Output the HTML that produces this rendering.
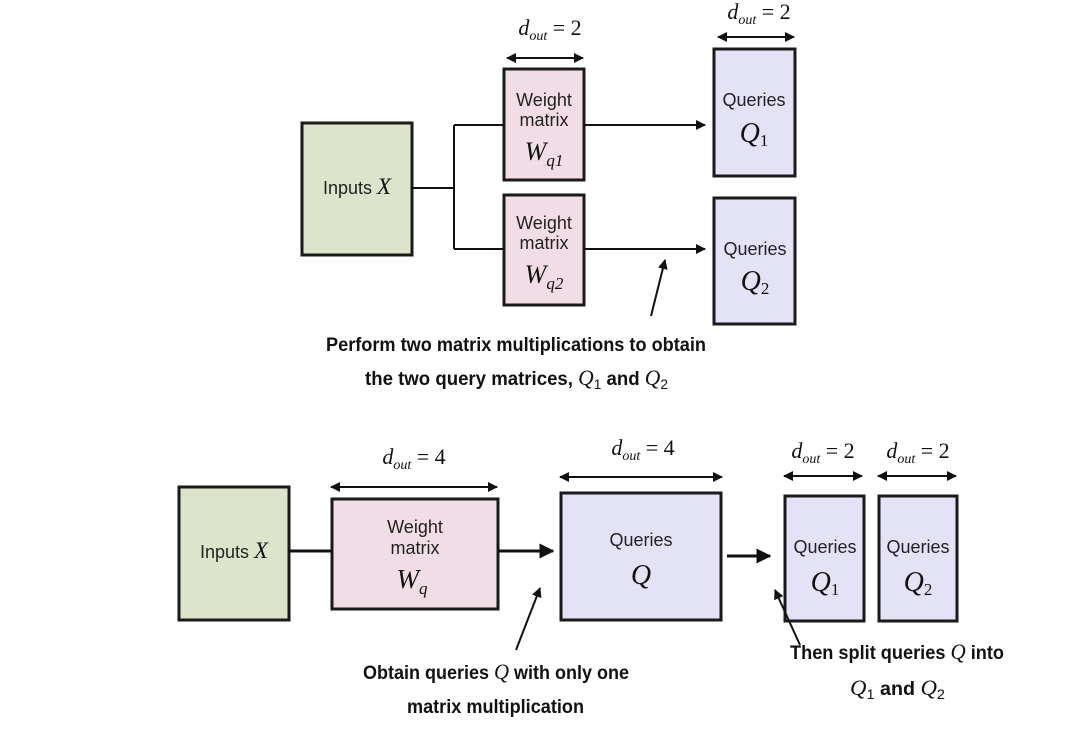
<!DOCTYPE html>
<html><head><meta charset="utf-8"><style>
html,body{margin:0;padding:0;background:#fff;}
svg{display:block}
.s{font-family:"Liberation Sans",sans-serif;font-size:18px;fill:#222}
.m{font-family:"Liberation Serif",serif;font-style:italic;fill:#111}
.b{font-family:"Liberation Sans Narrow","Liberation Sans",sans-serif;font-weight:bold;font-size:19px;fill:#111}
</style></head><body>
<svg width="1080" height="736" viewBox="0 0 1080 736" xmlns="http://www.w3.org/2000/svg">
<defs>
<marker id="a" viewBox="0 0 10 10" refX="9" refY="5" markerWidth="5" markerHeight="5" orient="auto-start-reverse"><path d="M0,0 L10,5 L0,10 z" fill="#111"/></marker>
</defs>
<g stroke="#1a1a1a" stroke-width="3">
<rect x="302" y="123" width="110" height="132" fill="#dce5cc"/>
<rect x="504" y="69" width="80" height="111" fill="#f2dde7"/>
<rect x="504" y="195" width="80" height="110" fill="#f2dde7"/>
<rect x="714" y="49" width="81" height="127" fill="#e4e2f7"/>
<rect x="714" y="198" width="81" height="126" fill="#e4e2f7"/>
<rect x="179" y="487" width="110" height="133" fill="#dce5cc"/>
<rect x="332" y="499" width="166" height="110" fill="#f2dde7"/>
<rect x="561" y="493" width="160" height="127" fill="#e4e2f7"/>
<rect x="785" y="496" width="79" height="125" fill="#e4e2f7"/>
<rect x="879" y="496" width="78" height="125" fill="#e4e2f7"/>
</g>
<g stroke="#111" stroke-width="2" fill="none">
<path d="M412,188 H454 M454,125 V249 M454,125 H504 M454,249 H504"/>
<path d="M584,125 H705" marker-end="url(#a)"/>
<path d="M584,249 H705" marker-end="url(#a)"/>
<path d="M507,58 H583" marker-start="url(#a)" marker-end="url(#a)"/>
<path d="M718,37 H794" marker-start="url(#a)" marker-end="url(#a)"/>
<path d="M651,316 L665,260" marker-end="url(#a)"/>
<path d="M331,487 H497" marker-start="url(#a)" marker-end="url(#a)"/>
<path d="M560,477 H722" marker-start="url(#a)" marker-end="url(#a)"/>
<path d="M784,476 H862" marker-start="url(#a)" marker-end="url(#a)"/>
<path d="M878,476 H956" marker-start="url(#a)" marker-end="url(#a)"/>
<path d="M516,650 L540,588" marker-end="url(#a)"/>
<path d="M800,645 L775,590" marker-end="url(#a)"/>
</g>
<g stroke="#111" stroke-width="3" fill="none">
<path d="M289,551 H332"/>
<path d="M498,551 H553" marker-end="url(#a)"/>
<path d="M727,556 H770" marker-end="url(#a)"/>
</g>
<text x="357" y="194" class="s" text-anchor="middle">Inputs <tspan class="m" font-size="23">X</tspan></text>
<text x="544" y="106" class="s" text-anchor="middle">Weight</text>
<text x="544" y="126" class="s" text-anchor="middle">matrix</text>
<text x="544" y="160" class="m" font-size="26" text-anchor="middle">W<tspan font-size="17" dy="6">q1</tspan></text>
<text x="544" y="229" class="s" text-anchor="middle">Weight</text>
<text x="544" y="249" class="s" text-anchor="middle">matrix</text>
<text x="544" y="283" class="m" font-size="26" text-anchor="middle">W<tspan font-size="17" dy="6">q2</tspan></text>
<text x="754" y="106" class="s" text-anchor="middle">Queries</text>
<text x="754" y="142" class="m" font-size="28" text-anchor="middle">Q<tspan font-size="17" font-style="normal" dy="4">1</tspan></text>
<text x="755" y="255" class="s" text-anchor="middle">Queries</text>
<text x="755" y="290" class="m" font-size="28" text-anchor="middle">Q<tspan font-size="17" font-style="normal" dy="4">2</tspan></text>
<text x="550" y="35" class="m" font-size="22" text-anchor="middle">d<tspan font-size="14" dy="5">out</tspan><tspan dy="-5" font-style="normal"> = 2</tspan></text>
<text x="759" y="19" class="m" font-size="22" text-anchor="middle">d<tspan font-size="14" dy="5">out</tspan><tspan dy="-5" font-style="normal"> = 2</tspan></text>
<text x="326" y="351" class="b" textLength="380" lengthAdjust="spacingAndGlyphs">Perform two matrix multiplications to obtain</text>
<text x="365" y="385" class="b" textLength="303" lengthAdjust="spacingAndGlyphs">the two query matrices, <tspan class="m" font-weight="normal" font-size="22">Q</tspan><tspan font-weight="normal" font-size="14" dy="4">1</tspan><tspan dy="-4"> and </tspan><tspan class="m" font-weight="normal" font-size="22">Q</tspan><tspan font-weight="normal" font-size="14" dy="4">2</tspan></text>
<text x="234" y="558" class="s" text-anchor="middle">Inputs <tspan class="m" font-size="23">X</tspan></text>
<text x="415" y="533" class="s" text-anchor="middle">Weight</text>
<text x="415" y="554" class="s" text-anchor="middle">matrix</text>
<text x="412" y="588" class="m" font-size="27" text-anchor="middle">W<tspan font-size="17" dy="6">q</tspan></text>
<text x="641" y="546" class="s" text-anchor="middle">Queries</text>
<text x="641" y="584" class="m" font-size="28" text-anchor="middle">Q</text>
<text x="825" y="553" class="s" text-anchor="middle">Queries</text>
<text x="825" y="591" class="m" font-size="28" text-anchor="middle">Q<tspan font-size="17" font-style="normal" dy="4">1</tspan></text>
<text x="918" y="553" class="s" text-anchor="middle">Queries</text>
<text x="918" y="591" class="m" font-size="28" text-anchor="middle">Q<tspan font-size="17" font-style="normal" dy="4">2</tspan></text>
<text x="414" y="464" class="m" font-size="22" text-anchor="middle">d<tspan font-size="14" dy="5">out</tspan><tspan dy="-5" font-style="normal"> = 4</tspan></text>
<text x="643" y="455" class="m" font-size="22" text-anchor="middle">d<tspan font-size="14" dy="5">out</tspan><tspan dy="-5" font-style="normal"> = 4</tspan></text>
<text x="823" y="458" class="m" font-size="22" text-anchor="middle">d<tspan font-size="14" dy="5">out</tspan><tspan dy="-5" font-style="normal"> = 2</tspan></text>
<text x="918" y="458" class="m" font-size="22" text-anchor="middle">d<tspan font-size="14" dy="5">out</tspan><tspan dy="-5" font-style="normal"> = 2</tspan></text>
<text x="363" y="679" class="b" textLength="266" lengthAdjust="spacingAndGlyphs">Obtain queries <tspan class="m" font-weight="normal" font-size="22">Q</tspan> with only one</text>
<text x="407" y="713" class="b" textLength="177" lengthAdjust="spacingAndGlyphs">matrix multiplication</text>
<text x="790" y="659" class="b" textLength="214" lengthAdjust="spacingAndGlyphs">Then split queries <tspan class="m" font-weight="normal" font-size="22">Q</tspan> into</text>
<text x="850" y="695" class="b" textLength="95" lengthAdjust="spacingAndGlyphs"><tspan class="m" font-weight="normal" font-size="22">Q</tspan><tspan font-weight="normal" font-size="14" dy="4">1</tspan><tspan dy="-4"> and </tspan><tspan class="m" font-weight="normal" font-size="22">Q</tspan><tspan font-weight="normal" font-size="14" dy="4">2</tspan></text>
</svg>
</body></html>
